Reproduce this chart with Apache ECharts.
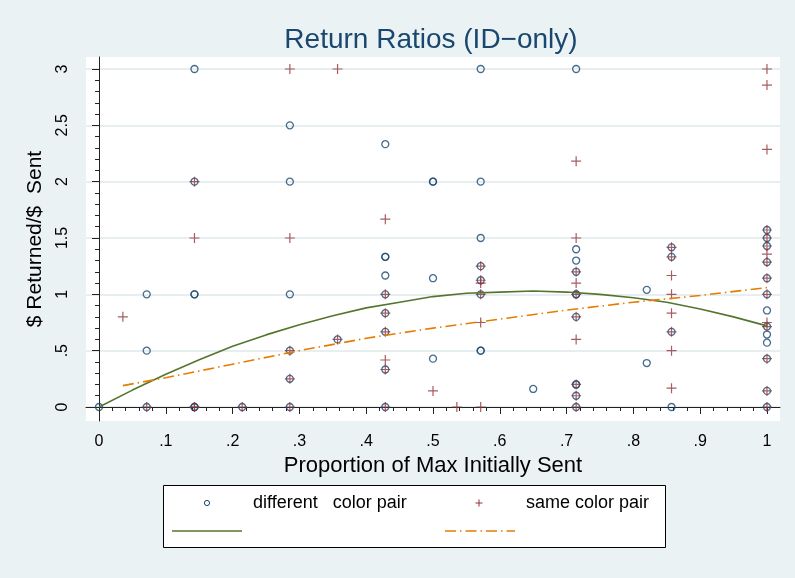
<!DOCTYPE html>
<html><head><meta charset="utf-8">
<script src="https://cdn.jsdelivr.net/npm/echarts@6/dist/echarts.min.js"></script>
<style>html,body{margin:0;padding:0;background:#eaf2f3}#c{width:795px;height:578px}</style>
</head><body><div id="c"></div>
<script>
const xTicks = [0, 0.1, 0.2, 0.3, 0.4, 0.5, 0.6, 0.7, 0.8, 0.9, 1];
const xTickLabels = ['0', '.1', '.2', '.3', '.4', '.5', '.6', '.7', '.8', '.9', '1'];
const xMinorTicks = [0.02,0.04,0.06,0.08,0.12,0.14,0.16,0.18,0.22,0.24,0.26,0.28,0.32,0.34,0.36,0.38,0.42,0.44,0.46,0.48,0.52,0.54,0.56,0.58,0.62,0.64,0.66,0.68,0.72,0.74,0.76,0.78,0.82,0.84,0.86,0.88,0.92,0.94,0.96,0.98];
const yTicks = [0, 0.5, 1, 1.5, 2, 2.5, 3];
const yTickLabels = ['0', '.5', '1', '1.5', '2', '2.5', '3'];
const yMinorTicks = [0.1,0.2,0.3,0.4,0.6,0.7,0.8,0.9,1.1,1.2,1.3,1.4,1.6,1.7,1.8,1.9,2.1,2.2,2.3,2.4,2.6,2.7,2.8,2.9];

// different color pair (hollow circles)
const diffPoints = [
  [0,0],
  [0.0714,1.0],[0.0714,0.5],[0.0714,0],
  [0.1429,3],[0.1429,2],[0.1429,1],[0.1429,1],[0.1429,0],[0.1429,0],
  [0.2143,0],
  [0.2857,2.5],[0.2857,2],[0.2857,1],[0.2857,0.5],[0.2857,0.25],[0.2857,0],
  [0.3571,0.6],
  [0.4286,2.333],[0.4286,1.333],[0.4286,1.333],[0.4286,1.167],[0.4286,1.0],[0.4286,0.833],[0.4286,0.667],[0.4286,0.333],[0.4286,0],
  [0.5,2],[0.5,2],[0.5,1.143],[0.5,0.429],
  [0.5714,3],[0.5714,2],[0.5714,1.5],[0.5714,1.25],[0.5714,1.125],[0.5714,1.0],[0.5714,0.5],[0.5714,0.5],
  [0.65,0.16],
  [0.7143,3],[0.7143,1.4],[0.7143,1.3],[0.7143,1.2],[0.7143,1.0],[0.7143,1.0],[0.7143,0.8],[0.7143,0.2],[0.7143,0.2],[0.7143,0.1],[0.7143,0],
  [0.82,1.04],[0.82,0.39],
  [0.8571,1.417],[0.8571,1.333],[0.8571,0.667],[0.8571,0],
  [1,1.571],[1,1.5],[1,1.429],[1,1.286],[1,1.143],[1,1.0],[1,0.857],[1,0.714],[1,0.643],[1,0.571],[1,0.429],[1,0.143],[1,0]
];
// same color pair (plus signs)
const samePoints = [
  [0.0357,0.8],
  [0.0714,0],
  [0.1429,2],[0.1429,1.5],[0.1429,0],[0.1429,0],
  [0.2143,0],
  [0.2857,3],[0.2857,1.5],[0.2857,0.5],[0.2857,0.25],[0.2857,0],
  [0.3571,3],[0.3571,0.6],
  [0.4286,1.667],[0.4286,1.0],[0.4286,0.833],[0.4286,0.667],[0.4286,0.417],[0.4286,0.333],[0.4286,0],
  [0.5,0.143],
  [0.5357,0],
  [0.5714,1.25],[0.5714,1.125],[0.5714,1.1],[0.5714,1.0],[0.5714,0.75],[0.5714,0],
  [0.7143,2.182],[0.7143,1.5],[0.7143,1.2],[0.7143,1.1],[0.7143,1.0],[0.7143,0.8],[0.7143,0.6],[0.7143,0.2],[0.7143,0.1],[0.7143,0],
  [0.8571,1.417],[0.8571,1.333],[0.8571,1.167],[0.8571,1.0],[0.8571,0.833],[0.8571,0.667],[0.8571,0.5],[0.8571,0.167],
  [1,3],[1,2.857],[1,2.286],[1,1.571],[1,1.5],[1,1.429],[1,1.357],[1,1.286],[1,1.143],[1,1.0],[1,0.75],[1,0.714],[1,0.429],[1,0.143],[1,0]
];
// fitted curves
const quadFitX = [0, 0.05, 0.1, 0.15, 0.2, 0.25, 0.3, 0.35, 0.4, 0.45, 0.5, 0.55, 0.6, 0.65, 0.7, 0.75, 0.8, 0.85, 0.9, 0.95, 1.0];
const quadFitY = [0.0, 0.15, 0.29, 0.42, 0.54, 0.64, 0.73, 0.81, 0.88, 0.93, 0.98, 1.01, 1.02, 1.03, 1.02, 1.00, 0.97, 0.93, 0.87, 0.80, 0.72];
const linFitX = [0.0357, 0.1, 0.2, 0.3, 0.4, 0.5, 0.6, 0.7, 0.8, 0.9, 1.0];
const linFitY = [0.19, 0.26, 0.38, 0.50, 0.61, 0.70, 0.78, 0.86, 0.93, 0.99, 1.06];

const NAVY = '#1a476f', MAROON = '#90353b', GREEN = '#55752f', ORANGE = '#e37e00';
const FONT = '"Liberation Sans", Arial, sans-serif';

function labelFor(ticks, labels) {
  return v => { for (let i = 0; i < ticks.length; i++) if (Math.abs(ticks[i] - v) < 1e-9) return labels[i]; return ''; };
}

const chart = echarts.init(document.getElementById('c'), null, {renderer: 'canvas'});
const plusPath = 'path://M0,5L10,5M5,0L5,10';

chart.setOption({
  animation: false,
  backgroundColor: '#eaf2f3',
  title: {
    text: 'Return Ratios (ID\u2212only)',
    left: 426, top: 21, textAlign: 'center',
    textStyle: {fontFamily: FONT, fontSize: 28, fontWeight: 'normal', color: NAVY}
  },
  grid: {left: 86, top: 57, width: 694, height: 364, show: true, backgroundColor: '#ffffff', borderWidth: 0},
  xAxis: [{
    type: 'value', min: -0.0195, max: 1.0195,
    axisLine: {show: true, lineStyle: {color: '#222', width: 1}},
    axisTick: {show: true, customValues: xTicks, length: 7, lineStyle: {color: '#222'}},
    axisLabel: {customValues: xTicks, formatter: labelFor(xTicks, xTickLabels), fontFamily: FONT, fontSize: 16, color: '#000', margin: 13},
    splitLine: {show: false},
    name: 'Proportion of Max Initially Sent', nameLocation: 'middle', nameGap: 31,
    nameTextStyle: {fontFamily: FONT, fontSize: 22, color: '#000'}
  }, {
    type: 'value', min: -0.0195, max: 1.0195, position: 'bottom',
    axisLine: {show: false},
    axisTick: {show: true, customValues: xMinorTicks, length: 4, lineStyle: {color: '#222'}},
    axisLabel: {show: false}, splitLine: {show: false}
  }],
  yAxis: [{
    type: 'value', min: -0.1243, max: 3.1065,
    axisLine: {show: true, lineStyle: {color: '#222', width: 1}},
    axisTick: {show: true, customValues: yTicks, length: 7, lineStyle: {color: '#222'}},
    axisLabel: {customValues: yTicks, formatter: labelFor(yTicks, yTickLabels), rotate: 90, fontFamily: FONT, fontSize: 16, color: '#000', margin: 15},
    splitLine: {show: true, lineStyle: {color: '#e6eef0', width: 2}},
    name: '$ Returned/$  Sent', nameLocation: 'middle', nameGap: 40, nameRotate: 90,
    nameTextStyle: {fontFamily: FONT, fontSize: 21, color: '#000'}
  }, {
    type: 'value', min: -0.1243, max: 3.1065, position: 'left',
    axisLine: {show: false},
    axisTick: {show: true, customValues: yMinorTicks, length: 4, lineStyle: {color: '#222'}},
    axisLabel: {show: false}, splitLine: {show: false}
  }],
  series: [{
    name: 'different   color pair', type: 'scatter', xAxisIndex: 0, yAxisIndex: 0,
    data: diffPoints, symbol: 'circle', symbolSize: 7,
    itemStyle: {color: 'rgba(0,0,0,0)', borderColor: NAVY, borderWidth: 1.3},
    emphasis: {disabled: true}
  }, {
    name: 'same color pair', type: 'scatter', xAxisIndex: 0, yAxisIndex: 0,
    data: samePoints, symbol: plusPath, symbolSize: 10,
    itemStyle: {color: 'rgba(0,0,0,0)', borderColor: MAROON, borderWidth: 1.2},
    emphasis: {disabled: true}
  }, {
    name: 'quadratic fit', type: 'line', xAxisIndex: 0, yAxisIndex: 0,
    data: quadFitX.map((x, i) => [x, quadFitY[i]]), smooth: false, symbol: 'none',
    lineStyle: {color: GREEN, width: 1.6}
  }, {
    name: 'linear fit', type: 'line', xAxisIndex: 0, yAxisIndex: 0,
    data: linFitX.map((x, i) => [x, linFitY[i]]), smooth: false, symbol: 'none',
    lineStyle: {color: ORANGE, width: 1.6, type: [11, 4, 1.5, 4]}
  }],
  graphic: [
    {type: 'rect', shape: {x: 163.5, y: 485.5, width: 502, height: 62}, style: {fill: '#fff', stroke: '#000', lineWidth: 1}, z: 10},
    {type: 'circle', shape: {cx: 207, cy: 503, r: 2.6}, style: {fill: 'none', stroke: NAVY, lineWidth: 1}, z: 11},
    {type: 'text', x: 253, y: 503, style: {text: 'different   color pair', font: '18px ' + FONT, fill: '#000', verticalAlign: 'middle'}, z: 11},
    {type: 'polyline', shape: {points: [[475.5, 503], [482.5, 503]]}, style: {stroke: MAROON, lineWidth: 1}, z: 11},
    {type: 'polyline', shape: {points: [[479, 499.5], [479, 506.5]]}, style: {stroke: MAROON, lineWidth: 1}, z: 11},
    {type: 'text', x: 526, y: 503, style: {text: 'same color pair', font: '18px ' + FONT, fill: '#000', verticalAlign: 'middle'}, z: 11},
    {type: 'line', shape: {x1: 172, y1: 531, x2: 242, y2: 531}, style: {stroke: GREEN, lineWidth: 1.6}, z: 11},
    {type: 'line', shape: {x1: 445, y1: 531, x2: 515, y2: 531}, style: {stroke: ORANGE, lineWidth: 1.6, lineDash: [11, 4, 1.5, 4]}, z: 11}
  ]
});
</script></body></html>
